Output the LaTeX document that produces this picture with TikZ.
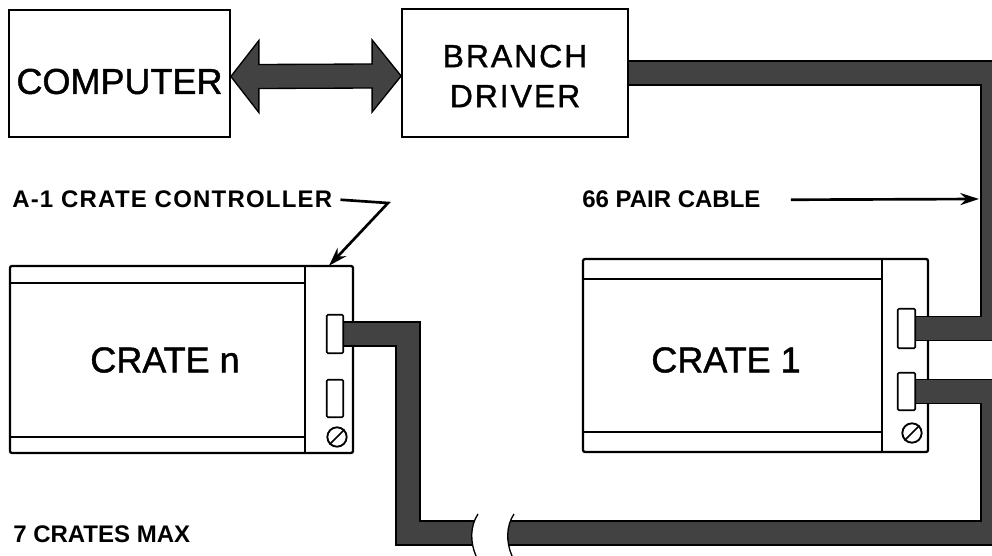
\documentclass[tikz,border=0pt]{standalone}
\usepackage{fontspec}
\setmainfont{Liberation Sans}
\newfontfamily\medfont{Liberation Sans}[FakeBold=1.2]
\newfontfamily\medspaced{Liberation Sans}[FakeBold=1.2,LetterSpace=6]
\newfontfamily\labspaced{Liberation Sans Bold}[LetterSpace=5]
\usetikzlibrary{fit,calc,arrows.meta}
\definecolor{cablegray}{gray}{0.26}
\newcommand\fBig{\medfont\fontsize{27}{32}\selectfont}
\newcommand\fBranch{\medspaced\fontsize{24}{30}\selectfont}
\newcommand\fLab{\fontsize{18}{22}\selectfont\bfseries}
\begin{document}
\begin{tikzpicture}[x=0.75pt,y=-0.75pt,
  box/.style={draw, line width=1.3pt, inner sep=0pt, fill=white},
  crate/.style={draw, line width=1.7pt, inner sep=0pt, fill=white, rounded corners=1.5pt},
  rail/.style={line width=1.4pt},
  screw/.style={draw, circle, line width=1.4pt, inner sep=0pt, minimum size=14.5pt, fill=white},
  cable/.style={line width=0.9pt, double=cablegray, double distance=17pt, line join=miter},
  lab/.style={font=\fLab, inner sep=0pt},
  big/.style={font=\fBig, inner sep=0pt}
]
\clip (0,0) rectangle (992,556);
\fill[white] (0,0) rectangle (992,556);

% ---- crate n
\node[crate, fit={(10,266)(353,453)}] (cn) {};
\draw[rail] (305,266) -- (305,453);
\draw[rail] (10,283) -- (305,283);
\draw[rail] (10,437) -- (305,437);
\node[fit={(305,266)(353,453)}, inner sep=0pt] (cnp) {};
\node[big] (cnt) at (165,360) {CRATE n};

% ---- crate 1
\node[crate, fit={(583,259)(928,452)}] (c1) {};
\draw[rail] (882,259) -- (882,452);
\draw[rail] (583,279) -- (882,279);
\draw[rail] (583,432) -- (882,432);
\node[big] (c1t) at (726,360) {CRATE 1};

% ---- connectors (positions)
\node[fit={(327,315)(343,353)}, inner sep=0pt] (cna) {};
\node[fit={(327,380)(343,417)}, inner sep=0pt] (cnb) {};
\node[fit={(898,309)(915,348)}, inner sep=0pt] (c1a) {};
\node[fit={(898,373)(915,410)}, inner sep=0pt] (c1b) {};

% ---- boxes
\node[box, fit={(9,10)(230,137)}] (comp) {};
\node[box, fit={(402,9)(628,137)}] (bd) {};

% ---- cables
\coordinate (rx) at (993,0);
\coordinate (bl) at (408,533);
\draw[cable] (bd.east) -| (rx |- c1a.east) -- (c1a.east);
\draw[cable] (cna.east) -| (bl) -- (rx |- bl) |- (c1b.east);
% cable break
\fill[white] (478,513) .. controls (470,526) and (470,542) .. (476,557)
  -- (512,557) .. controls (506,542) and (506,526) .. (514,513) -- cycle;
\draw[line width=1pt] (478,514) .. controls (470,526) and (470,542) .. (476,556);
\draw[line width=1pt] (514,514) .. controls (506,526) and (506,542) .. (512,556);

% ---- connector drawings on top
\foreach \n in {cna,cnb,c1a,c1b}{
  \draw[line width=1.2pt, fill=white, rounded corners=1pt] (\n.south west) rectangle (\n.north east);
}
\node[screw] (cns) at (337,437) {};
\draw[line width=1.3pt] (cns.south west) -- (cns.north east);
\node[screw] (c1s) at (912,433) {};
\draw[line width=1.3pt] (c1s.south west) -- (c1s.north east);

% ---- box texts
\node[big] at ($(comp.center)+(0,8)$) {COMPUTER};
\node[font=\fBranch, align=center, inner sep=0pt] at (515,76) {BRANCH\\DRIVER};

% ---- double arrow
\coordinate (A) at ($(comp.east)+(0,3)$);
\coordinate (B) at ($(bd.west)+(0,3)$);
\filldraw[fill=cablegray, draw=black, line width=1pt, line join=miter]
  (A) -- ($(A)+(28,-36)$) -- ($(A)+(28,-12)$) -- ($(B)+(-29,-12)$) -- ($(B)+(-29,-36)$)
  -- (B) -- ($(B)+(-29,36)$) -- ($(B)+(-29,12)$) -- ($(A)+(28,12)$) -- ($(A)+(28,36)$) -- cycle;

% ---- labels
\node[inner sep=0pt, anchor=base west, font=\labspaced\fontsize{18}{22}\selectfont] (a1) at (12,208) {A-1 CRATE CONTROLLER};
\coordinate (a1k) at (388,203);
\draw[line width=2pt, -{Stealth[length=14pt,width=9pt]}] ($(a1.east)+(8,0)$ |- a1k) -- (a1k) -- (cnp.north);

\node[lab, anchor=base west] (pc) at (582,208) {66 PAIR CABLE};
\coordinate (pcend) at (979,199);
\draw[line width=2pt, -{Stealth[length=14pt,width=9pt]}] ($(pc.east)+(30,0)$ |- pcend) -- (pcend);

\node[lab, anchor=base west] (mx) at (13,542) {7 CRATES MAX};
\end{tikzpicture}
\end{document}
